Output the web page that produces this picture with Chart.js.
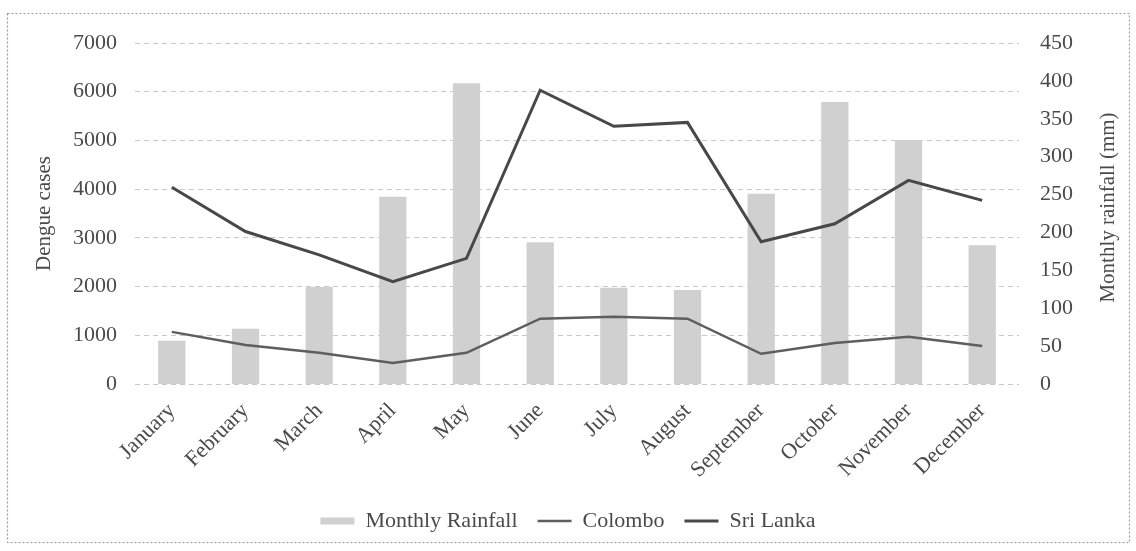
<!DOCTYPE html>
<html>
<head>
<meta charset="utf-8">
<script src="https://cdn.jsdelivr.net/npm/chart.js@4.4.1/dist/chart.umd.min.js"></script>
<style>
  html, body { margin: 0; padding: 0; background: #ffffff; }
  #wrap { position: absolute; left: 0; top: 0; width: 1136px; height: 551px; }
</style>
</head>
<body>
<div id="wrap"><canvas id="c" width="1136" height="551"></canvas></div>
<script>
const months = ["January","February","March","April","May","June","July","August","September","October","November","December"];
const rainfall = [57, 73, 128, 247, 397, 187, 127, 124, 251, 372, 322, 183];
const colombo = [1070, 800, 640, 430, 640, 1340, 1380, 1340, 620, 840, 970, 780];
const sriLanka = [4040, 3130, 2650, 2100, 2580, 6030, 5290, 5370, 2920, 3290, 4180, 3770];
const leftTicks = [0, 1000, 2000, 3000, 4000, 5000, 6000, 7000];
const rightTicks = [0, 50, 100, 150, 200, 250, 300, 350, 400, 450];
const rightTitle = 'Monthly rainfall (mm)';

const FONT = "'Liberation Serif', 'Times New Roman', serif";
const TXT = "#4a4a4a";

const borderPlugin = {
  id: 'outerBorder',
  beforeDraw(chart) {
    const ctx = chart.ctx;
    ctx.save();
    ctx.fillStyle = '#ffffff';
    ctx.fillRect(0, 0, chart.width, chart.height);
    ctx.strokeStyle = '#9a9a9a';
    ctx.lineWidth = 1.2;
    ctx.setLineDash([2, 2]);
    ctx.strokeRect(7.5, 13.5, 1122, 529);
    ctx.restore();
  },
  afterDraw(chart) {
    // right axis title, rotated to read bottom-to-top like the reference
    const ctx = chart.ctx;
    const area = chart.chartArea;
    const sc = chart.scales.y1;
    ctx.save();
    ctx.translate(sc.right - 16, (area.top + area.bottom) / 2 - 6);
    ctx.rotate(-Math.PI / 2);
    ctx.fillStyle = TXT;
    ctx.font = "21px " + FONT;
    ctx.textAlign = 'center';
    ctx.textBaseline = 'middle';
    ctx.fillText(rightTitle, 0, 0);
    ctx.restore();
  }
};

new Chart(document.getElementById('c'), {
  type: 'bar',
  data: {
    labels: months,
    datasets: [
      {
        type: 'bar',
        label: 'Monthly Rainfall',
        data: rainfall,
        yAxisID: 'y1',
        backgroundColor: '#d0d0d0',
        borderWidth: 0,
        barPercentage: 0.37,
        categoryPercentage: 1.0,
        pointStyle: 'rect',
        order: 2
      },
      {
        type: 'line',
        label: 'Colombo',
        data: colombo,
        yAxisID: 'y',
        borderColor: '#5e5e5e',
        backgroundColor: '#5e5e5e',
        borderWidth: 2.5,
        pointRadius: 0,
        tension: 0,
        pointStyle: 'line',
        order: 1
      },
      {
        type: 'line',
        label: 'Sri Lanka',
        data: sriLanka,
        yAxisID: 'y',
        borderColor: '#484848',
        backgroundColor: '#484848',
        borderWidth: 3,
        pointRadius: 0,
        tension: 0,
        pointStyle: 'line',
        order: 0
      }
    ]
  },
  options: {
    responsive: false,
    animation: false,
    devicePixelRatio: 1,
    layout: { padding: { left: 12, right: 12, top: 43, bottom: 9 } },
    plugins: {
      tooltip: { enabled: false },
      legend: {
        position: 'bottom',
        labels: {
          usePointStyle: true,
          pointStyleWidth: 34,
          boxHeight: 7,
          padding: 20,
          color: TXT,
          font: { family: FONT, size: 22 },
          sort: (a, b) => a.datasetIndex - b.datasetIndex
        }
      }
    },
    scales: {
      x: {
        offset: true,
        grid: { display: false, drawTicks: false },
        border: { display: false },
        ticks: {
          autoSkip: false,
          minRotation: 45,
          maxRotation: 45,
          padding: 14,
          color: TXT,
          font: { family: FONT, size: 22 }
        },
        afterFit(scale) { scale.height = 106; }
      },
      y: {
        position: 'left',
        min: 0,
        max: 7000,
        afterBuildTicks(scale) { scale.ticks = leftTicks.map(v => ({ value: v })); },
        grid: {
          color: '#c8c8c8',
          lineWidth: 1,
          drawTicks: false
        },
        border: { display: false, dash: [5, 4] },
        ticks: {
          padding: 18,
          color: TXT,
          font: { family: FONT, size: 22 },
          callback: (v) => String(v)
        },
        title: {
          display: true,
          text: 'Dengue cases',
          color: TXT,
          font: { family: FONT, size: 21 },
          padding: { top: 20, bottom: 0 }
        },
        afterFit(scale) { scale.width = 123; }
      },
      y1: {
        position: 'right',
        min: 0,
        max: 450,
        afterBuildTicks(scale) { scale.ticks = rightTicks.map(v => ({ value: v })); },
        grid: { display: false, drawTicks: false },
        border: { display: false },
        ticks: {
          padding: 21,
          color: TXT,
          font: { family: FONT, size: 22 },
          callback: (v) => String(v)
        },
        title: { display: false },
        afterFit(scale) { scale.width = 105; }
      }
    }
  },
  plugins: [borderPlugin]
});
</script>
</body>
</html>
